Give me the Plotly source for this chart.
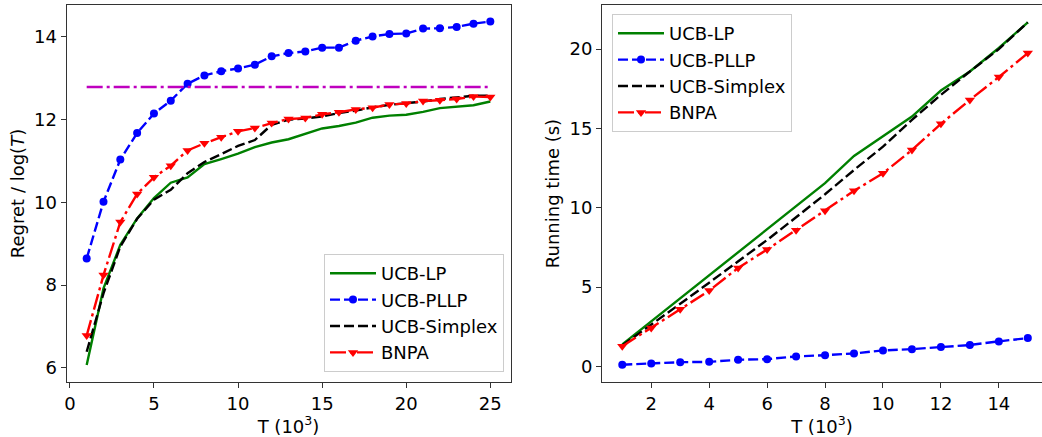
import plotly.graph_objects as go

# ---------------- data ----------------
T_regret = list(range(1, 26))
regret_ucb_lp = [6.07, 7.92, 8.97, 9.61, 10.10, 10.47, 10.60, 10.92, 11.04, 11.17, 11.33, 11.44, 11.52,
                 11.65, 11.78, 11.84, 11.92, 12.04, 12.09, 12.11, 12.18, 12.27, 12.31, 12.34, 12.43]
regret_ucb_pllp = [8.64, 10.01, 11.03, 11.67, 12.14, 12.45, 12.86, 13.06, 13.16, 13.23, 13.32, 13.52, 13.60,
                   13.64, 13.73, 13.73, 13.90, 14.00, 14.06, 14.07, 14.19, 14.20, 14.23, 14.31, 14.36]
regret_ucb_simplex = [6.39, 7.80, 8.93, 9.60, 10.06, 10.30, 10.70, 10.97, 11.16, 11.36, 11.50, 11.87, 11.99,
                      12.02, 12.07, 12.15, 12.21, 12.29, 12.35, 12.39, 12.43, 12.49, 12.53, 12.57, 12.57]
regret_bnpa = [6.78, 8.24, 9.52, 10.20, 10.60, 10.88, 11.25, 11.42, 11.57, 11.71, 11.79, 11.91, 12.01,
               12.03, 12.12, 12.17, 12.24, 12.28, 12.36, 12.38, 12.44, 12.46, 12.49, 12.55, 12.54]
regret_bound = [12.78] * len(T_regret)

T_run = list(range(1, 16))
run_ucb_lp = [1.39, 2.84, 4.29, 5.74, 7.19, 8.64, 10.10, 11.55, 13.27, 14.49, 15.75, 17.39, 18.59, 20.07, 21.69]
run_ucb_pllp = [0.11, 0.19, 0.27, 0.29, 0.42, 0.46, 0.63, 0.71, 0.82, 1.01, 1.09, 1.22, 1.35, 1.58, 1.79]
run_ucb_simplex = [1.33, 2.62, 3.95, 5.28, 6.62, 7.97, 9.40, 10.85, 12.38, 13.85, 15.54, 17.12, 18.59, 20.00, 21.69]
run_bnpa = [1.28, 2.42, 3.60, 4.78, 6.21, 7.37, 8.59, 9.81, 11.07, 12.17, 13.64, 15.29, 16.80, 18.24, 19.75]

names = ["UCB-LP", "UCB-PLLP", "UCB-Simplex", "BNPA"]

# ---------------- styles ----------------
FONT = "DejaVu Sans"
LW = 2.4
AXC = "#333333"
styles = {
    "UCB-LP": dict(mode="lines", line=dict(color="#008000", width=LW, dash="solid")),
    "UCB-PLLP": dict(mode="lines+markers", line=dict(color="#0000ff", width=LW, dash="10px,4px"),
                     marker=dict(symbol="circle", size=8, color="#0000ff", line=dict(width=0))),
    "UCB-Simplex": dict(mode="lines", line=dict(color="#000000", width=LW, dash="10px,4px")),
    "BNPA": dict(mode="lines+markers", line=dict(color="#ff0000", width=LW, dash="16px,4px,3px,4px"),
                 marker=dict(symbol="triangle-down", size=9, color="#ff0000", line=dict(width=0))),
}

fig = go.Figure()

left_series = [regret_ucb_lp, regret_ucb_pllp, regret_ucb_simplex, regret_bnpa]
for n, ys in zip(names, left_series):
    fig.add_trace(go.Scatter(x=T_regret, y=ys, name=n, xaxis="x", yaxis="y",
                             legend="legend", **styles[n]))
fig.add_trace(go.Scatter(x=T_regret, y=regret_bound, mode="lines", showlegend=False,
                         line=dict(color="#bf00bf", width=LW, dash="16px,4px,3px,4px"),
                         xaxis="x", yaxis="y"))

right_series = [run_ucb_lp, run_ucb_pllp, run_ucb_simplex, run_bnpa]
for n, ys in zip(names, right_series):
    fig.add_trace(go.Scatter(x=T_run, y=ys, name=n, xaxis="x2", yaxis="y2",
                             legend="legend2", **styles[n]))

axis_common = dict(showgrid=False, zeroline=False, showline=True, linecolor=AXC, linewidth=1,
                   ticks="outside", ticklen=5, tickwidth=1, tickcolor=AXC,
                   tickfont=dict(family=FONT, size=18, color="#000000"),
                   automargin=False)

ML, MR, MT, MB = 66, 0, 5, 55
W, H = 1042, 437
PW = W - ML - MR

def dom(px0, px1):
    return [(px0 - ML) / PW, min(1.0, (px1 - ML) / PW)]

legend_common = dict(bgcolor="rgba(255,255,255,0.8)", bordercolor="#cccccc", borderwidth=1,
                     font=dict(family=FONT, size=18, color="#000000"), itemwidth=46)

fig.update_layout(
    width=W, height=H,
    margin=dict(l=ML, r=MR, t=MT, b=MB),
    paper_bgcolor="white", plot_bgcolor="white",
    template="none",
    font=dict(family=FONT, size=18, color="#000000"),
    xaxis=dict(domain=dom(66.5, 510.5), range=[-0.2, 26.2], tickvals=[0, 5, 10, 15, 20, 25],
               mirror=True, anchor="y",
               title=dict(text="T (10<sup>3</sup>)", font=dict(family=FONT, size=18), standoff=8),
               **axis_common),
    yaxis=dict(domain=[0, 1], range=[5.66, 14.76], tickvals=[6, 8, 10, 12, 14], mirror=True, anchor="x",
               title=dict(text="Regret / log(<i>T</i>)", font=dict(family=FONT, size=18), standoff=4),
               **axis_common),
    xaxis2=dict(domain=dom(602, 1042), range=[0.3, 15.49], tickvals=[2, 4, 6, 8, 10, 12, 14],
                mirror=True, anchor="y2",
                title=dict(text="T (10<sup>3</sup>)", font=dict(family=FONT, size=18), standoff=8),
                **axis_common),
    yaxis2=dict(domain=[0, 1], range=[-0.98, 22.78], tickvals=[0, 5, 10, 15, 20], mirror=False, anchor="x2",
                title=dict(text="Running time (s)", font=dict(family=FONT, size=18), standoff=5),
                **axis_common),
    legend=dict(x=(504 - ML) / PW, y=(H - MB - 372) / (H - MT - MB), xanchor="right", yanchor="bottom",
                **legend_common),
    legend2=dict(x=(612 - ML) / PW, y=(H - MB - 14) / (H - MT - MB), xanchor="left", yanchor="top",
                 **legend_common),
)

fig.write_html("out.html", config={"displayModeBar": False},
               post_script="document.body.style.margin='0';document.body.style.overflow='hidden';")
